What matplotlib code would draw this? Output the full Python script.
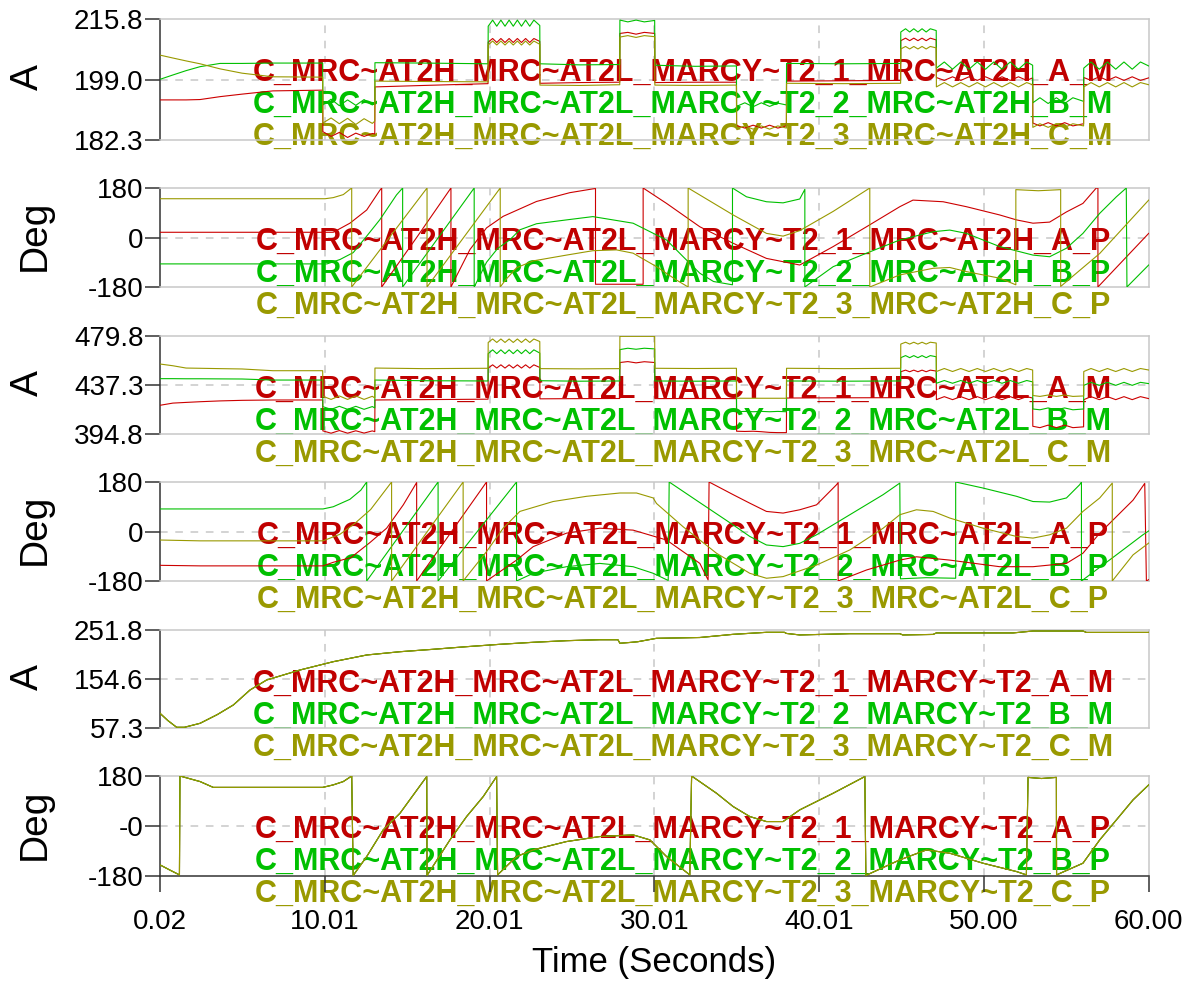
import matplotlib
matplotlib.use("Agg")
import matplotlib.pyplot as plt

# ---------------- time axis ----------------
X_MIN, X_MAX = 0.02, 60.0
X_TICKS = [0.02, 10.01, 20.01, 30.01, 40.01, 50.00, 60.00]
X_TICK_LABELS = ["0.02", "10.01", "20.01", "30.01", "40.01", "50.00", "60.00"]

# ---------------- y scales ----------------
Y1_TICKS = [182.3, 199.0, 215.8]
Y1_LABELS = ["182.3", "199.0", "215.8"]
Y3_TICKS = [394.8, 437.3, 479.8]
Y3_LABELS = ["394.8", "437.3", "479.8"]
Y5_TICKS = [57.3, 154.6, 251.8]
Y5_LABELS = ["57.3", "154.6", "251.8"]
PH_TICKS = [-180, 0, 180]
PH_LABELS = ["-180", "0", "180"]
PH6_LABELS = ["-180", "-0", "180"]

# ---------------- magnitude channels (AT2H / AT2L) ----------------
MAG_T = [
    0.02, 0.80, 1.60, 2.45, 3.66, 5.00, 6.87, 9.89,
    9.90, 10.40, 10.90, 11.40, 11.90, 12.40, 12.90, 13.05,
    13.06, 16.00, 19.92,
    19.93, 20.20, 20.45, 20.70, 20.95, 21.20, 21.45, 21.70, 21.95, 22.20, 22.45, 22.70, 23.06,
    23.07, 25.50, 27.91,
    27.92, 28.40, 28.90, 29.40, 30.03,
    30.04, 32.50, 34.99,
    35.00, 35.50, 36.00, 36.50, 37.00, 37.50, 38.02,
    38.03, 41.50, 44.95,
    44.96, 45.25, 45.50, 45.75, 46.00, 46.25, 46.50, 46.75, 47.11,
    47.12, 47.60, 48.10, 48.60, 49.10, 49.60, 50.10, 50.60, 51.10, 51.60, 52.10, 52.60, 52.96,
    52.97, 53.40, 53.90, 54.40, 54.90, 55.40, 56.05,
    56.06, 56.50, 57.00, 57.50, 58.00, 58.50, 59.00, 59.50, 60.00,
]

P1_A = [
    193.4, 193.4, 193.4, 193.5, 194.3, 195.0, 195.9, 196.1,
    184.6, 183.3, 184.4, 183.0, 184.2, 183.3, 184.1, 184.0,
    197.0, 197.4, 197.9,
    209.4, 210.4, 209.3, 210.4, 209.3, 210.4, 209.3, 210.4, 209.3, 210.4, 209.3, 210.4, 209.6,
    198.0, 198.2, 198.3,
    211.8, 212.1, 211.6, 212.1, 211.8,
    198.2, 198.3, 198.3,
    186.3, 185.6, 186.4, 185.6, 186.4, 185.6, 186.2,
    198.6, 198.7, 198.8,
    209.8, 210.5, 209.8, 210.5, 209.8, 210.5, 209.8, 210.5, 210.0,
    199.6, 198.8, 199.8, 198.8, 199.8, 198.8, 199.8, 198.8, 199.8, 198.8, 199.8, 198.8, 199.5,
    187.0, 186.2, 187.1, 186.2, 187.1, 186.2, 186.8,
    199.6, 198.8, 199.8, 198.8, 199.8, 198.8, 199.8, 198.8, 199.5,
]
P1_B = [
    199.1, 200.3, 201.5, 202.6, 203.5, 203.5, 203.6, 203.6,
    192.0, 193.6, 191.8, 193.4, 191.9, 193.5, 192.0, 192.5,
    203.7, 203.6, 203.4,
    213.8, 215.5, 213.8, 215.5, 213.8, 215.5, 213.8, 215.5, 213.8, 215.5, 213.8, 215.5, 214.0,
    203.4, 203.1, 203.2,
    215.5, 215.0, 215.5, 215.0, 215.4,
    203.0, 202.7, 202.8,
    191.6, 192.6, 191.5, 192.6, 191.6, 192.5, 192.0,
    203.5, 203.4, 203.5,
    212.2, 213.1, 212.2, 213.1, 212.2, 213.1, 212.2, 213.1, 212.6,
    202.2, 203.9, 201.9, 203.9, 201.9, 203.9, 201.9, 203.9, 201.9, 203.9, 201.9, 203.9, 203.0,
    192.6, 194.0, 192.4, 194.0, 192.4, 194.0, 193.0,
    202.2, 203.9, 201.9, 203.9, 201.9, 203.9, 201.9, 203.9, 202.8,
]
P1_C = [
    205.8, 205.0, 204.2, 203.4, 202.0, 200.8, 199.8, 199.7,
    187.0, 188.4, 186.8, 188.3, 186.6, 188.2, 186.9, 187.5,
    198.6, 198.5, 198.4,
    208.6, 209.7, 208.6, 209.7, 208.6, 209.7, 208.6, 209.7, 208.6, 209.7, 208.6, 209.7, 208.8,
    197.5, 197.4, 197.6,
    210.8, 211.2, 210.7, 211.2, 210.9,
    197.5, 197.4, 197.5,
    185.4, 186.2, 185.3, 186.2, 185.3, 186.2, 185.6,
    198.0, 197.9, 198.0,
    207.5, 208.2, 207.5, 208.2, 207.5, 208.2, 207.5, 208.2, 207.8,
    197.0, 198.2, 197.0, 198.2, 197.0, 198.2, 197.0, 198.2, 197.0, 198.2, 197.0, 198.2, 197.6,
    185.8, 186.8, 185.8, 186.8, 185.8, 186.8, 186.2,
    197.0, 198.2, 197.0, 198.2, 197.0, 198.2, 197.0, 198.2, 197.6,
]

P3_A = [
    419.7, 421.6, 422.2, 422.8, 423.5, 424.0, 424.3, 424.3,
    397.5, 395.5, 397.8, 395.5, 397.6, 395.6, 397.5, 396.8,
    424.3, 424.6, 425.0,
    452.0, 454.8, 452.0, 454.8, 452.0, 454.8, 452.0, 454.8, 452.0, 454.8, 452.0, 454.8, 452.5,
    425.3, 425.5, 425.6,
    456.8, 457.6, 456.5, 457.5, 456.8,
    425.5, 425.6, 425.5,
    397.2, 397.0, 397.2, 396.8, 396.2, 396.0, 396.0,
    426.0, 426.2, 426.3,
    448.8, 450.2, 448.8, 450.2, 448.8, 450.2, 448.8, 450.2, 449.4,
    424.6, 427.2, 424.6, 427.2, 424.6, 427.2, 424.6, 427.2, 424.6, 427.2, 424.6, 427.2, 426.0,
    401.5, 400.3, 402.5, 400.3, 402.5, 400.3, 401.0,
    424.6, 427.2, 424.6, 427.2, 424.6, 427.2, 424.6, 427.2, 425.5,
]
P3_B = [
    442.8, 442.8, 442.7, 442.7, 442.6, 442.5, 441.6, 441.6,
    418.5, 416.2, 418.8, 416.2, 418.8, 416.2, 418.6, 417.4,
    441.6, 441.0, 440.8,
    464.5, 467.8, 464.5, 467.8, 464.5, 467.8, 464.5, 467.8, 464.5, 467.8, 464.5, 467.8, 465.0,
    441.0, 440.6, 440.8,
    468.0, 469.2, 468.3, 469.2, 468.6,
    440.8, 440.6, 440.8,
    414.1, 414.4, 414.1, 414.4, 414.1, 414.4, 414.1,
    440.8, 440.6, 440.8,
    461.0, 462.8, 461.0, 462.8, 461.0, 462.8, 461.0, 462.8, 461.8,
    438.8, 441.2, 438.8, 441.2, 438.8, 441.2, 438.8, 441.2, 438.8, 441.2, 438.8, 441.2, 440.0,
    416.5, 415.8, 417.4, 415.8, 417.4, 415.8, 416.5,
    437.0, 439.6, 437.0, 439.6, 437.0, 439.6, 437.0, 439.6, 438.5,
]
P3_C = [
    455.5, 454.0, 452.0, 451.8, 451.5, 451.2, 449.7, 449.7,
    427.5, 424.8, 427.8, 424.8, 427.8, 424.8, 427.5, 426.0,
    452.0, 451.5, 451.8,
    474.2, 477.2, 474.2, 477.2, 474.2, 477.2, 474.2, 477.2, 474.2, 477.2, 474.2, 477.2, 475.0,
    451.5, 451.3, 451.5,
    479.5, 479.5, 479.5, 479.5, 479.5,
    451.8, 451.6, 451.8,
    425.8, 425.8, 425.8, 425.8, 425.8, 425.8, 425.8,
    451.8, 451.5, 451.8,
    472.8, 474.4, 472.8, 474.4, 472.8, 474.4, 472.8, 474.4, 473.7,
    449.0, 451.6, 449.0, 451.6, 449.0, 451.6, 449.0, 451.6, 449.0, 451.6, 449.0, 451.6, 450.3,
    428.2, 427.4, 428.6, 427.4, 428.6, 427.4, 427.8,
    449.0, 451.6, 449.0, 451.6, 449.0, 451.6, 449.0, 451.6, 450.3,
]

# ---------------- phase channels, AT2H ----------------
P2_A_T = [0.02, 10.53, 11.54, 12.56, 13.36, 13.47, 13.47, 15.59, 17.67, 17.67, 18.82, 19.83,
          20.84, 22.86, 24.88, 26.30, 26.44, 26.44, 29.33, 29.33, 30.75, 32.77, 34.79, 36.81,
          38.83, 40.86, 42.88, 44.90, 45.70, 47.53, 48.94, 50.96, 51.98, 52.98, 53.99, 55.01,
          56.01, 56.82, 56.92, 56.92, 60.00]
P2_A = [19, 19, 52, 100, 172, 180, -180, 0, 180, -180, -44, 35,
        77, 131, 163, 177, 178, -170, -170, 180, 124, 39, -21, -76,
        -100, -33, 39, 112, 136, 130, 112, 82, 64, 52, 56, 93,
        124, 180, 180, -180, 15]
P2_B_T = [0.02, 10.15, 10.94, 11.74, 12.56, 13.36, 14.37, 14.74, 14.74, 19.08, 19.08, 19.83,
          20.50, 21.25, 21.85, 22.86, 24.68, 26.28, 28.72, 30.75, 31.76, 32.77, 33.60, 34.75,
          34.75, 35.60, 36.81, 37.82, 38.83, 39.14, 39.14, 40.86, 42.88, 44.90, 46.92, 47.93,
          48.94, 50.96, 52.98, 53.99, 55.01, 56.01, 57.03, 58.04, 58.64, 58.68, 60.00]
P2_B = [-96, -96, -80, -55, 5, 65, 155, 180, -180, 180, -180, -90,
        -40, -8, 28, 50, 64, 76, 52, -9, -70, -130, -160, -172,
        180, 148, 130, 126, 140, 175, -180, -106, -57, -9, 21, 27,
        15, -33, -64, -70, -39, 15, 88, 148, 180, -180, -100]
P2_C_T = [0.02, 10.03, 10.53, 11.14, 11.54, 11.65, 11.65, 16.22, 16.22, 20.66, 20.66, 21.00,
          21.65, 22.66, 24.68, 26.28, 27.71, 28.72, 30.14, 31.36, 32.06, 32.06, 34.79, 36.81,
          37.82, 38.83, 40.86, 43.08, 43.08, 44.90, 46.92, 47.93, 48.94, 50.96, 51.94, 51.94,
          53.30, 54.66, 54.66, 57.03, 60.00]
P2_C = [141, 141, 145, 156, 175, 180, -180, 180, -180, 180, -180, -153,
        -110, -85, -64, -48, -45, -57, -106, -155, -180, 180, 82, 15,
        5, 25, 95, 180, -180, -136, -112, -109, -124, -148, -172, 174,
        170, 174, -178, -58, 136]

# ---------------- phase channels, AT2L ----------------
P4_A_T = [0.02, 2.45, 9.91, 10.53, 11.60, 12.76, 13.77, 14.78, 15.59, 15.59, 19.83, 19.83,
          21.65, 22.66, 24.68, 26.70, 28.72, 30.75, 32.77, 33.27, 33.33, 34.79, 35.80, 36.81,
          37.82, 38.83, 39.85, 41.06, 41.16, 41.16, 42.88, 44.90, 45.91, 47.93, 50.96, 52.98,
          55.01, 56.01, 57.03, 58.04, 59.05, 59.76, 59.86, 60.00]
P4_A = [-123, -125, -125, -112, -95, -40, 12, 97, 178, -180, 180, -180,
        -104, -55, -6, 12, 5, -31, -116, -176, 180, 134, 103, 73,
        67, 79, 97, 170, 178, -180, -140, -104, -92, -104, -128, -128,
        -116, -79, -6, 54, 114, 175, -180, -175]
P4_B_T = [0.02, 9.91, 10.53, 11.54, 12.20, 12.56, 12.56, 16.89, 16.89, 21.65, 21.65, 22.66,
          24.68, 26.70, 28.72, 29.94, 30.85, 30.91, 32.77, 34.79, 35.80, 36.81, 37.82, 38.83,
          39.85, 41.87, 43.89, 44.90, 44.94, 46.50, 48.29, 48.29, 49.95, 51.98, 52.98, 53.99,
          55.01, 55.81, 55.92, 55.92, 58.04, 59.65, 60.00]
P4_B = [82, 82, 90, 117, 150, 180, -180, 180, -180, 180, -180, -152,
        -128, -116, -128, -152, -178, 180, 105, 24, -18, -49, -55, -43,
        -12, 61, 134, 176, -172, -168, -170, 180, 158, 128, 109, 107,
        122, 170, 180, -180, -85, -12, 2]
P4_C_T = [0.02, 2.45, 9.91, 10.94, 11.85, 12.80, 14.07, 14.07, 18.41, 18.41, 19.83, 20.84,
          21.85, 22.86, 23.87, 25.90, 27.92, 28.93, 29.94, 30.14, 31.76, 33.78, 35.80, 36.81,
          37.82, 39.85, 41.87, 43.89, 44.90, 45.91, 46.92, 47.93, 49.95, 51.98, 52.98, 53.99,
          55.01, 56.01, 57.03, 57.79, 57.79, 59.05, 60.00]
P4_C = [-31, -34, -34, -10, 30, 80, 180, -180, 180, -180, -73, 12,
        73, 91, 109, 128, 140, 140, 122, 102, 17, -79, -152, -170,
        -164, -122, -67, 12, 61, 79, 73, 49, 12, -18, -24, -12,
        12, 73, 122, 176, -180, -85, -42]

# ---------------- MARCY~T2 (three phases overlap) ----------------
P5_T = [0.02, 0.50, 1.03, 1.50, 2.45, 3.50, 4.47, 5.48, 6.49, 8.51, 10.53, 12.56,
        14.58, 16.59, 18.62, 20.64, 22.66, 24.68, 26.70, 27.80, 27.92, 28.50, 29.00, 30.14,
        32.77, 34.79, 36.81, 37.90, 38.02, 38.83, 41.87, 44.90, 45.08, 46.92, 47.12, 51.77,
        52.98, 56.01, 56.22, 60.00]
P5_V = [86.5, 72.0, 58.7, 58.7, 66.6, 84.0, 103.0, 132.7, 152.6, 172.4, 188.9, 202.2,
        208.7, 213.5, 218.7, 223.4, 227.4, 230.6, 232.5, 232.5, 225.5, 227.0, 228.5, 235.3,
        236.9, 243.2, 247.2, 247.2, 245.0, 242.0, 244.5, 244.5, 242.0, 243.0, 246.0, 246.0,
        249.8, 249.8, 247.0, 247.0]
P6_T = [0.02, 0.60, 1.20, 1.23, 2.45, 3.25, 9.89, 10.53, 11.14, 11.65, 11.74, 12.56,
        13.56, 14.58, 16.20, 16.22, 17.61, 18.62, 19.63, 20.44, 20.50, 21.65, 22.66, 24.68,
        26.70, 28.72, 29.74, 30.75, 32.16, 32.27, 33.78, 34.79, 35.80, 36.81, 37.82, 38.83,
        40.86, 42.78, 42.84, 44.90, 46.52, 47.93, 49.95, 51.98, 52.58, 52.68, 53.50, 54.40,
        54.41, 56.01, 57.03, 58.04, 59.05, 60.00]
P6_V = [-140, -158, -176, 180, 160, 139, 139, 148, 160, 180, -178, -110,
        -14, 46, 178, -178, -50, 34, 106, 178, -176, -110, -86, -56,
        -38, -32, -50, -110, -176, 180, 118, 70, 34, 16, 16, 58,
        118, 178, -178, -122, -86, -98, -134, -164, -176, 175, 171, 175,
        -176, -134, -50, 22, 94, 148]

# ---------------- figure ----------------
plt.rcParams["font.family"] = ["Liberation Sans", "DejaVu Sans"]

W, H = 1198, 985
fig = plt.figure(figsize=(W / 100, H / 100), dpi=100)

LINE_COLORS = ["#CC0000", "#00C000", "#999900"]
TEXT_COLORS = ["#C00000", "#00C000", "#999900"]
GRID = "#C8C8C8"
AXIS = "#333333"
LEFT_PX, RIGHT_PX = 160, 1148.7

# (top, bottom) of each strip in pixels
LAYOUT = [(19, 140), (188, 287), (336, 434), (482, 581), (630, 728), (776, 876)]

PANELS = [
    (Y1_TICKS, Y1_LABELS, "A", [(MAG_T, P1_A), (MAG_T, P1_B), (MAG_T, P1_C)], "MRC~AT2H", "M"),
    (PH_TICKS, PH_LABELS, "Deg", [(P2_A_T, P2_A), (P2_B_T, P2_B), (P2_C_T, P2_C)], "MRC~AT2H", "P"),
    (Y3_TICKS, Y3_LABELS, "A", [(MAG_T, P3_A), (MAG_T, P3_B), (MAG_T, P3_C)], "MRC~AT2L", "M"),
    (PH_TICKS, PH_LABELS, "Deg", [(P4_A_T, P4_A), (P4_B_T, P4_B), (P4_C_T, P4_C)], "MRC~AT2L", "P"),
    (Y5_TICKS, Y5_LABELS, "A", [(P5_T, P5_V), (P5_T, P5_V), (P5_T, P5_V)], "MARCY~T2", "M"),
    (PH_TICKS, PH6_LABELS, "Deg", [(P6_T, P6_V), (P6_T, P6_V), (P6_T, P6_V)], "MARCY~T2", "P"),
]

n = len(PANELS)
for k, ((top, bot), (yt, ylab, unit, series, term, q)) in enumerate(zip(LAYOUT, PANELS)):
    ax = fig.add_axes([LEFT_PX / W, 1 - bot / H, (RIGHT_PX - LEFT_PX) / W, (bot - top) / H])
    ax.set_xlim(X_MIN, X_MAX)
    ax.set_ylim(yt[0], yt[-1])
    ax.set_yticks(yt)
    ax.set_yticklabels(ylab)
    ax.set_xticks(X_TICKS)

    # dashed reference grid
    for xv in X_TICKS[1:-1]:
        ax.axvline(xv, color=GRID, lw=1.1, ls=(0, (5, 5)), zorder=0.5)
    ax.axhline(yt[1], color=GRID, lw=1.1, ls=(0, (5, 5)), zorder=0.5)

    # channel names
    for i, ph in enumerate("ABC"):
        name = f"C_MRC~AT2H_MRC~AT2L_MARCY~T2_{i + 1}_{term}_{ph}_{q}"
        ax.text(683 / W, 1 - (top + 62 + 32 * i) / H, name, transform=fig.transFigure,
                ha="center", va="baseline", fontsize=22, fontweight="bold",
                color=TEXT_COLORS[i], zorder=1.5, clip_on=False)

    # traces
    for (t, v), c in zip(series, LINE_COLORS):
        ax.plot(t, v, color=c, lw=0.8, zorder=3)

    for s in ("top", "right", "bottom"):
        ax.spines[s].set_color(GRID)
        ax.spines[s].set_linewidth(1.1)
    ax.spines["left"].set_color(AXIS)
    ax.spines["left"].set_linewidth(1.1)
    ax.tick_params(axis="y", direction="out", length=10.8, width=1.1, pad=1.0,
                   labelsize=20, color=AXIS, labelcolor="black")

    if k == n - 1:
        ax.spines["bottom"].set_color(AXIS)
        ax.set_xticklabels(X_TICK_LABELS)
        ax.tick_params(axis="x", direction="out", length=11.5, width=1.1, pad=12,
                       labelsize=20, color=AXIS, labelcolor="black")
    else:
        ax.tick_params(axis="x", length=0, labelbottom=False)

    # unit label
    xb = 38.3 if unit == "A" else 44.7
    fig.text(xb / W, 1 - ((top + bot) / 2 - 2) / H, unit, rotation=90,
             rotation_mode="anchor", ha="center", va="baseline", fontsize=28)

fig.text(654 / W, 1 - 971.7 / H, "Time (Seconds)", ha="center", va="baseline", fontsize=25)

fig.savefig("out.png", dpi=100)
